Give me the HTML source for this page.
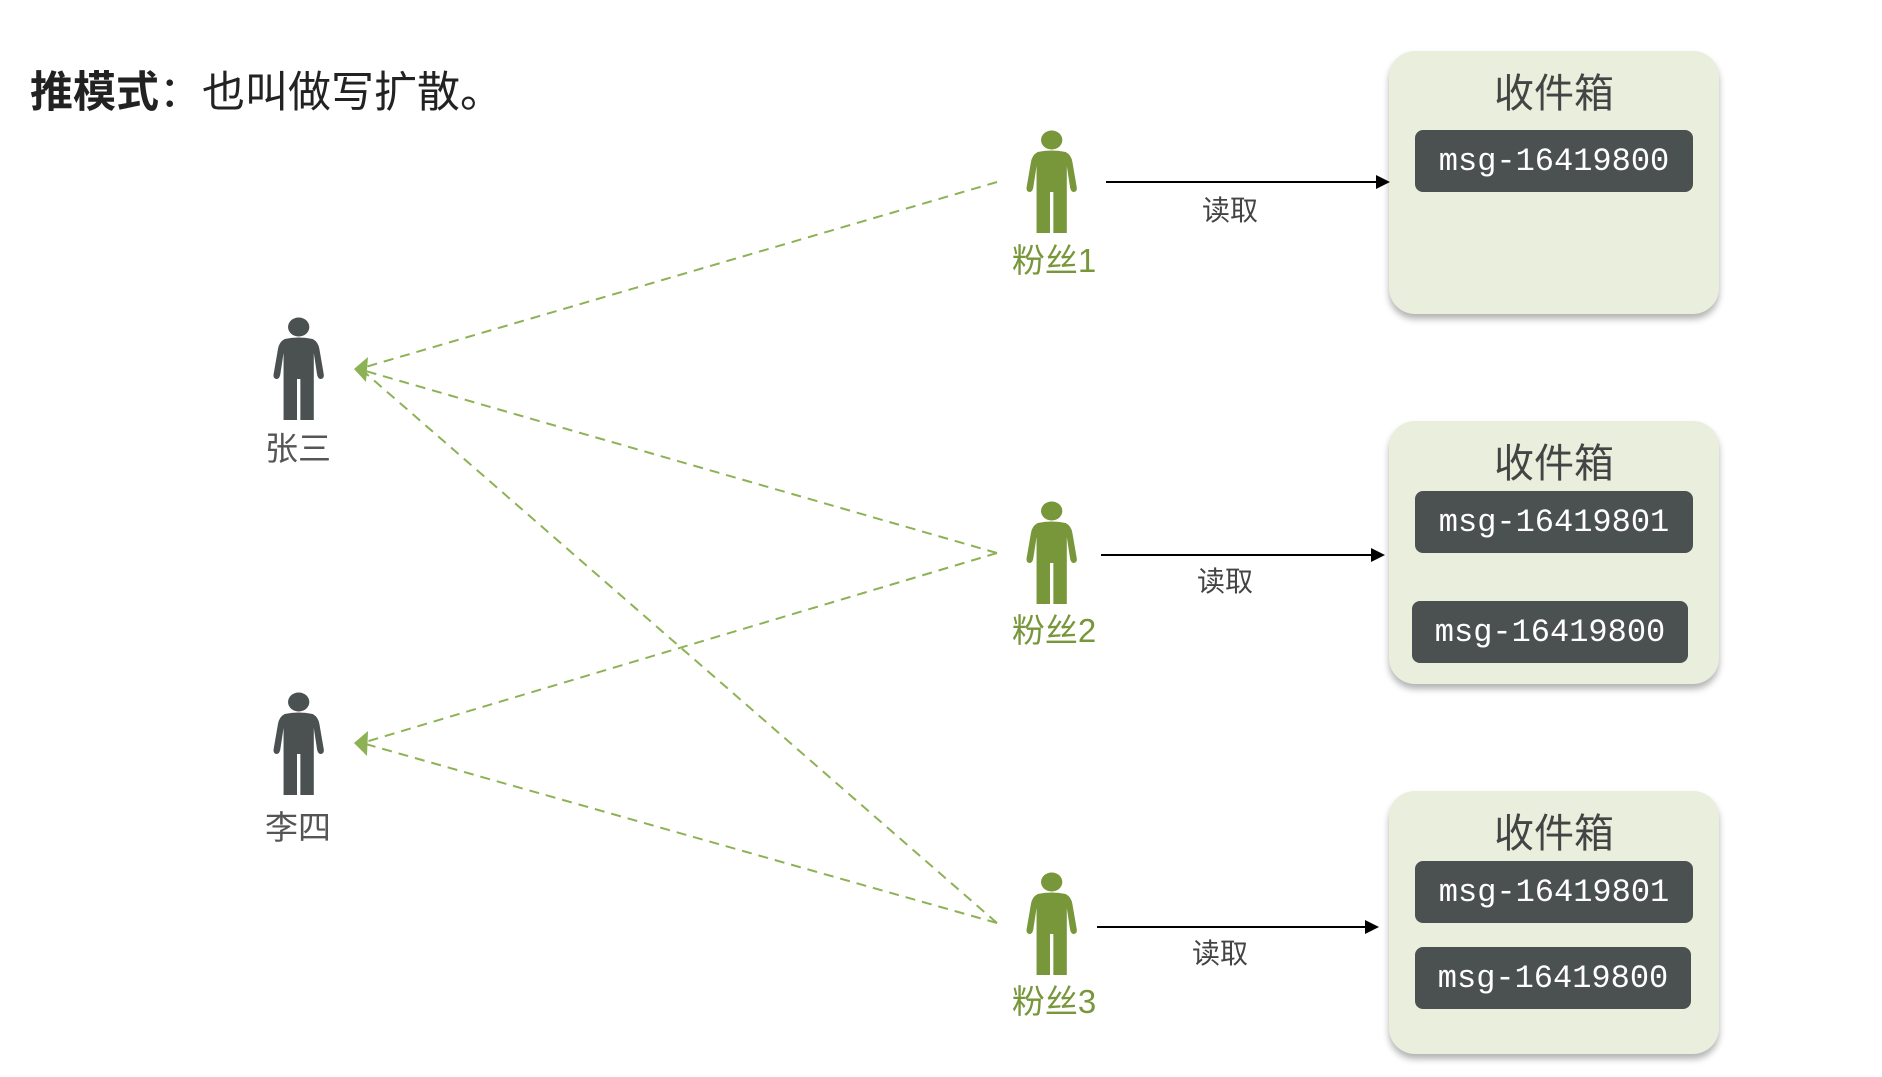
<!DOCTYPE html>
<html><head><meta charset="utf-8"><style>
body{margin:0;width:1882px;height:1077px;background:#fff;position:relative;overflow:hidden;font-family:"Liberation Sans","Noto Sans CJK SC",sans-serif;}
.t{position:absolute;white-space:nowrap;}
.box{position:absolute;left:1389px;width:330px;background:#e9eedd;border-radius:26px;box-shadow:0 5px 7px rgba(0,0,0,.3);}
.bt{position:absolute;left:0;width:100%;text-align:center;top:10px;font-size:40px;color:#444;}
.msg{position:absolute;background:#4b5151;border-radius:8px;color:#fff;font-family:"Liberation Mono","DejaVu Sans Mono",monospace;font-size:32px;display:flex;align-items:center;justify-content:center;height:62px;}
.lbl{font-size:33px;transform:translateX(-50%);}
</style></head><body>
<div class="t" style="left:30px;top:58px;font-size:43px;color:#222;"><b>推模式</b>：也叫做写扩散。</div>

<div class="box" style="top:51px;height:263px;"><div class="bt">收件箱</div>
<div class="msg" style="left:26px;top:79px;width:278px;">msg-16419800</div></div>
<div class="box" style="top:421px;height:263px;"><div class="bt">收件箱</div>
<div class="msg" style="left:26px;top:70px;width:278px;">msg-16419801</div>
<div class="msg" style="left:23px;top:180px;width:276px;">msg-16419800</div></div>
<div class="box" style="top:791px;height:263px;"><div class="bt">收件箱</div>
<div class="msg" style="left:26px;top:70px;width:278px;">msg-16419801</div>
<div class="msg" style="left:26px;top:156px;width:276px;">msg-16419800</div></div>

<svg width="1882" height="1077" style="position:absolute;left:0;top:0">
<defs>
<path id="p" d="M14,22 Q26.5,19 39,22 Q44,25 45,32 L49,58 Q49,62 46,62 Q44,62 43,58 L40,36 L40,103 L28,103 L28,62 L25,62 L25,103 L13,103 L13,36 L10,58 Q9,62 7,62 Q4,62 4,58 L8,32 Q9,25 14,22 Z"/>
</defs>
<g stroke="#8db255" stroke-width="2" stroke-dasharray="10,7" fill="none">
<line x1="997" y1="182" x2="362" y2="368"/>
<line x1="997" y1="553" x2="362" y2="370"/>
<line x1="997" y1="553" x2="362" y2="743"/>
<line x1="997" y1="923" x2="362" y2="370"/>
<line x1="997" y1="923" x2="362" y2="743"/>
</g>
<path d="M354,369 L368,357 L366,382 Z" fill="#8db255"/>
<path d="M354,743 L368,731 L367,756 Z" fill="#8db255"/>
<g stroke="#000" stroke-width="2">
<line x1="1106" y1="182" x2="1378" y2="182"/>
<line x1="1101" y1="555" x2="1373" y2="555"/>
<line x1="1097" y1="927" x2="1367" y2="927"/>
</g>
<path d="M1376,175 L1390,182 L1376,189 Z"/>
<path d="M1371,548 L1385,555 L1371,562 Z"/>
<path d="M1365,920 L1379,927 L1365,934 Z"/>
<g fill="#78963a">
<g transform="translate(1022,130) scale(1.12,1)"><circle cx="26.5" cy="10" r="9.5"/><use href="#p"/></g>
<g transform="translate(1022,501) scale(1.12,1)"><circle cx="26.5" cy="10" r="9.5"/><use href="#p"/></g>
<g transform="translate(1022,872) scale(1.12,1)"><circle cx="26.5" cy="10" r="9.5"/><use href="#p"/></g>
</g>
<g fill="#4b5151">
<g transform="translate(269,317) scale(1.12,1)"><circle cx="26.5" cy="10" r="9.5"/><use href="#p"/></g>
<g transform="translate(269,692) scale(1.12,1)"><circle cx="26.5" cy="10" r="9.5"/><use href="#p"/></g>
</g>
</svg>
<div class="t lbl" style="left:1054px;top:234px;color:#78963a;">粉丝1</div>
<div class="t lbl" style="left:1054px;top:604px;color:#78963a;">粉丝2</div>
<div class="t lbl" style="left:1054px;top:975px;color:#78963a;">粉丝3</div>
<div class="t lbl" style="left:298px;top:422px;color:#555;">张三</div>
<div class="t lbl" style="left:298px;top:801px;color:#555;">李四</div>
<div class="t lbl" style="left:1230px;top:189px;color:#444;font-size:28px;">读取</div>
<div class="t lbl" style="left:1225px;top:560px;color:#444;font-size:28px;">读取</div>
<div class="t lbl" style="left:1220px;top:932px;color:#444;font-size:28px;">读取</div>
</body></html>
